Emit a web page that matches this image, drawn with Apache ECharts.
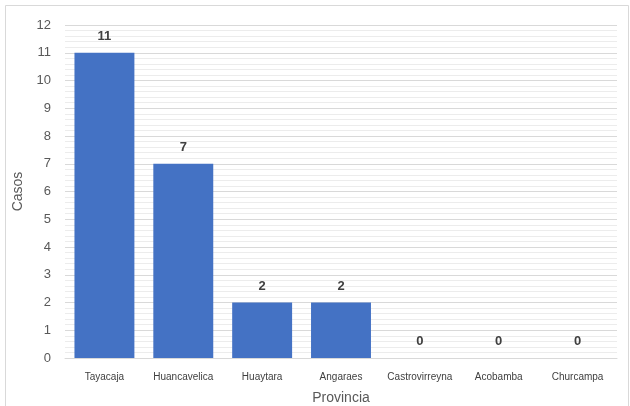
<!DOCTYPE html>
<html>
<head>
<meta charset="utf-8">
<script src="https://cdn.jsdelivr.net/npm/echarts@6/dist/echarts.min.js"></script>
<style>
  html, body { margin: 0; padding: 0; background: #fff; }
  #chart { width: 630px; height: 406px; }
</style>
</head>
<body>
<div id="chart"></div>
<script>
// Casos por provincia
const provincias = ['Tayacaja', 'Huancavelica', 'Huaytara', 'Angaraes', 'Castrovirreyna', 'Acobamba', 'Churcampa'];
const casos = [11, 7, 2, 2, 0, 0, 0];
const yTicks = [0, 1, 2, 3, 4, 5, 6, 7, 8, 9, 10, 11, 12];

const font = 'Liberation Sans, Arial, sans-serif';
const chart = echarts.init(document.getElementById('chart'), null, { renderer: 'canvas' });

chart.setOption({
  animation: false,
  backgroundColor: '#ffffff',
  graphic: [{
    type: 'rect',
    shape: { x: 5.5, y: 5.5, width: 623, height: 404 },
    style: { fill: 'none', stroke: '#d9d9d9', lineWidth: 1 },
    silent: true
  }],
  grid: { left: 65, right: 13, top: 25, bottom: 48, outerBoundsMode: 'none', containLabel: false },
  xAxis: {
    type: 'category',
    data: provincias,
    name: 'Provincia',
    nameLocation: 'middle',
    nameGap: 33,
    nameTextStyle: { color: '#595959', fontSize: 14, fontFamily: font },
    axisLine: { show: true, lineStyle: { color: '#d9d9d9', width: 1 } },
    axisTick: { show: false },
    axisLabel: { color: '#404040', fontSize: 10, fontFamily: font, margin: 14, interval: 0 },
    splitLine: { show: false }
  },
  yAxis: {
    type: 'value',
    min: yTicks[0],
    max: yTicks[yTicks.length - 1],
    interval: 1,
    name: 'Casos',
    nameLocation: 'middle',
    nameGap: 35,
    nameRotate: 90,
    nameTextStyle: { color: '#595959', fontSize: 14, fontFamily: font },
    axisLine: { show: false },
    axisTick: { show: false },
    axisLabel: { color: '#595959', fontSize: 13, fontFamily: font, margin: 14 },
    splitLine: { show: true, lineStyle: { color: '#d9d9d9', width: 1 } },
    minorTick: { show: false, splitNumber: 5 },
    minorSplitLine: { show: true, lineStyle: { color: '#ececec', width: 1 } }
  },
  series: [{
    type: 'bar',
    data: casos,
    barWidth: '76%',
    itemStyle: { color: '#4472c4' },
    label: {
      show: true,
      position: 'top',
      distance: 10,
      color: '#404040',
      fontWeight: 'bold',
      fontSize: 13,
      fontFamily: font
    }
  }]
});
</script>
</body>
</html>
